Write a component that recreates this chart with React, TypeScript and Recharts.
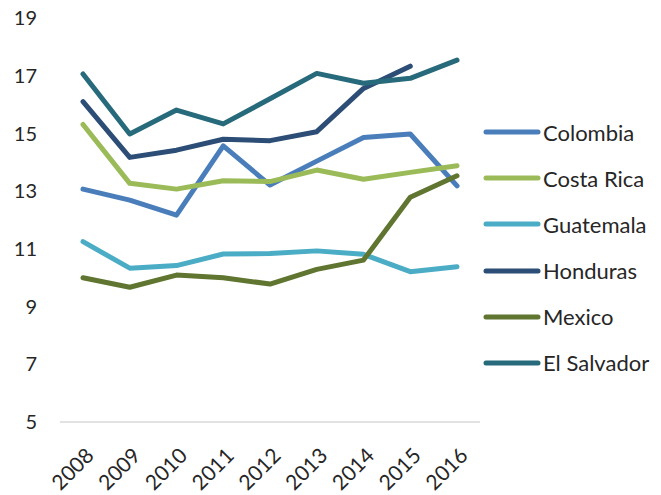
import { LineChart, Line, XAxis, YAxis, Legend } from 'recharts';

const years = ['2008', '2009', '2010', '2011', '2012', '2013', '2014', '2015', '2016'];

const colombia = [13.07, 12.69, 12.17, 14.57, 13.21, 14.04, 14.86, 14.98, 13.18];
const costaRica = [15.31, 13.27, 13.07, 13.36, 13.33, 13.73, 13.41, 13.65, 13.88];
const guatemala = [11.25, 10.33, 10.42, 10.82, 10.84, 10.93, 10.81, 10.21, 10.38];
const honduras = [16.1, 14.17, 14.42, 14.8, 14.75, 15.06, 16.56, 17.33, null];
const mexico = [10.0, 9.67, 10.09, 10.0, 9.78, 10.29, 10.61, 12.79, 13.53];
const elSalvador = [17.06, 14.98, 15.81, 15.33, 16.2, 17.08, 16.74, 16.91, 17.54];

const yTicks = [5, 7, 9, 11, 13, 15, 17, 19];

const series = [
  { key: 'Colombia', values: colombia, color: '#4a7ebb' },
  { key: 'Costa Rica', values: costaRica, color: '#9bbb59' },
  { key: 'Guatemala', values: guatemala, color: '#4bacc6' },
  { key: 'Honduras', values: honduras, color: '#2c4d75' },
  { key: 'Mexico', values: mexico, color: '#5f7530' },
  { key: 'El Salvador', values: elSalvador, color: '#276a7c' },
];

const data = years.map((year, i) => {
  const row: Record<string, string | number | null> = { year };
  series.forEach((s) => {
    row[s.key] = s.values[i];
  });
  return row;
});

const font = 'Lato, "Noto Sans", sans-serif';
const textColor = '#262626';

const YearTick = (props: any) => {
  const { x, y, payload } = props;
  return (
    <g transform={`translate(${x + 12},${y + 27})`}>
      <text
        x={0}
        y={0}
        textAnchor="end"
        transform="rotate(-45)"
        fontSize={21}
        fill={textColor}
        fontFamily={font}
      >
        {payload.value}
      </text>
    </g>
  );
};

const LegendBox = () => (
  <div style={{ width: 175, fontFamily: font }}>
    {series.map((s) => (
      <div
        key={s.key}
        style={{ height: 46.2, display: 'flex', alignItems: 'center', paddingLeft: 3 }}
      >
        <svg width={58} height={8}>
          <line x1={3} y1={4} x2={55} y2={4} stroke={s.color} strokeWidth={5} strokeLinecap="round" />
        </svg>
        <span style={{ fontSize: 22, color: textColor, marginLeft: 2 }}>{s.key}</span>
      </div>
    ))}
  </div>
);

export default function App() {
  return (
    <div style={{ position: 'absolute', left: 0, top: 0, background: '#fff' }}>
      <LineChart width={661} height={495} data={data} margin={{ top: 18, right: 6, left: 0, bottom: 0 }}>
        <XAxis
          dataKey="year"
          axisLine={{ stroke: '#d9d9d9', strokeWidth: 1.5 }}
          tickLine={false}
          tick={<YearTick />}
          interval={0}
          height={73}
          padding={{ left: 23, right: 23 }}
        />
        <YAxis
          domain={[5, 19]}
          ticks={yTicks}
          axisLine={false}
          tickLine={false}
          tickSize={0}
          tickMargin={23}
          width={60}
          tick={{ fontSize: 20, fill: textColor, fontFamily: font }}
        />
        <Legend
          layout="vertical"
          align="right"
          verticalAlign="middle"
          content={<LegendBox />}
        />
        {series.map((s) => (
          <Line
            key={s.key}
            dataKey={s.key}
            stroke={s.color}
            strokeWidth={5}
            strokeLinecap="round"
            strokeLinejoin="round"
            dot={false}
            activeDot={false}
            type="linear"
            isAnimationActive={false}
          />
        ))}
      </LineChart>
    </div>
  );
}
